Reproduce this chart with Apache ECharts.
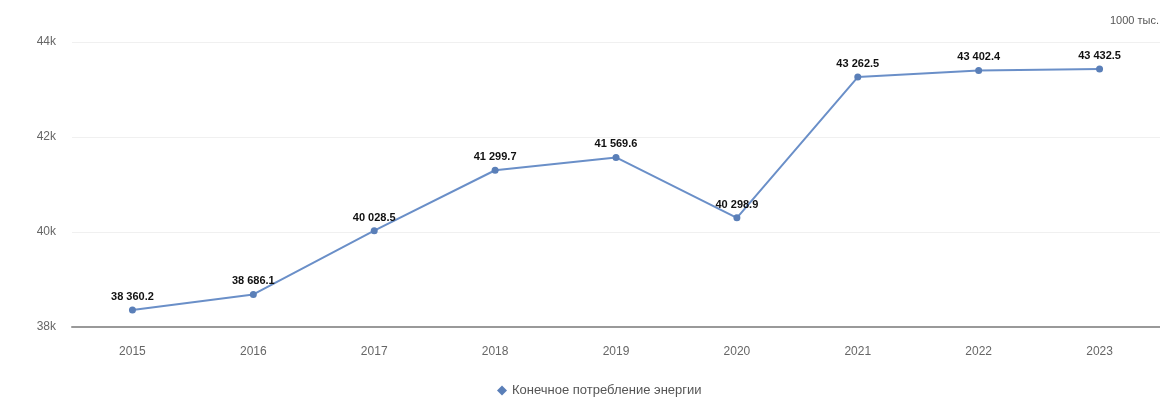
<!DOCTYPE html>
<html>
<head>
<meta charset="utf-8">
<script src="https://cdn.jsdelivr.net/npm/echarts@6/dist/echarts.min.js"></script>
<style>
  html, body { margin: 0; padding: 0; background: #ffffff; }
  #chart { width: 1160px; height: 412px; }
</style>
</head>
<body>
<div id="chart"></div>
<script>
// Final energy consumption by year
const years = ['2015', '2016', '2017', '2018', '2019', '2020', '2021', '2022', '2023'];
const consumption = [38360.2, 38686.1, 40028.5, 41299.7, 41569.6, 40298.9, 43262.5, 43402.4, 43432.5];
const seriesName = 'Конечное потребление энергии';
const unitLabel = '1000 тыс. т у.т.';

const fmtValue = v => {
  const parts = v.toFixed(1).split('.');
  return parts[0].replace(/\B(?=(\d{3})+(?!\d))/g, ' ') + '.' + parts[1];
};

const chart = echarts.init(document.getElementById('chart'));
chart.setOption({
  animation: false,
  textStyle: { fontFamily: 'Liberation Sans, Arial, sans-serif' },
  grid: { left: 72, right: 0, top: 42, bottom: 85 },
  graphic: [{
    type: 'text',
    left: 1110,
    top: 15,
    style: { text: unitLabel, fill: '#555', font: '11px Liberation Sans, Arial, sans-serif' }
  }],
  legend: {
    bottom: 10,
    left: 492,
    icon: 'diamond',
    itemWidth: 10,
    itemHeight: 10,
    itemGap: 6,
    textStyle: { color: '#555', fontSize: 13 },
    data: [seriesName]
  },
  xAxis: {
    type: 'category',
    data: years,
    boundaryGap: true,
    axisLine: { lineStyle: { color: '#999', width: 2 } },
    axisTick: { show: false },
    axisLabel: { color: '#666', fontSize: 12, margin: 19 }
  },
  yAxis: {
    type: 'value',
    min: 38000,
    max: 44000,
    interval: 2000,
    axisLabel: { color: '#666', fontSize: 12, margin: 16, formatter: v => (v / 1000) + 'k' },
    splitLine: { lineStyle: { color: '#f0f0f0', width: 1 } },
    axisLine: { show: false },
    axisTick: { show: false }
  },
  series: [{
    name: seriesName,
    type: 'line',
    data: consumption,
    symbol: 'circle',
    symbolSize: 7,
    lineStyle: { color: '#6a8fc8', width: 2 },
    itemStyle: { color: '#5a7fb8' },
    label: {
      show: true,
      position: 'top',
      distance: 4,
      color: '#111',
      fontSize: 11,
      fontWeight: 'bold',
      formatter: p => fmtValue(p.value)
    }
  }]
});
</script>
</body>
</html>
